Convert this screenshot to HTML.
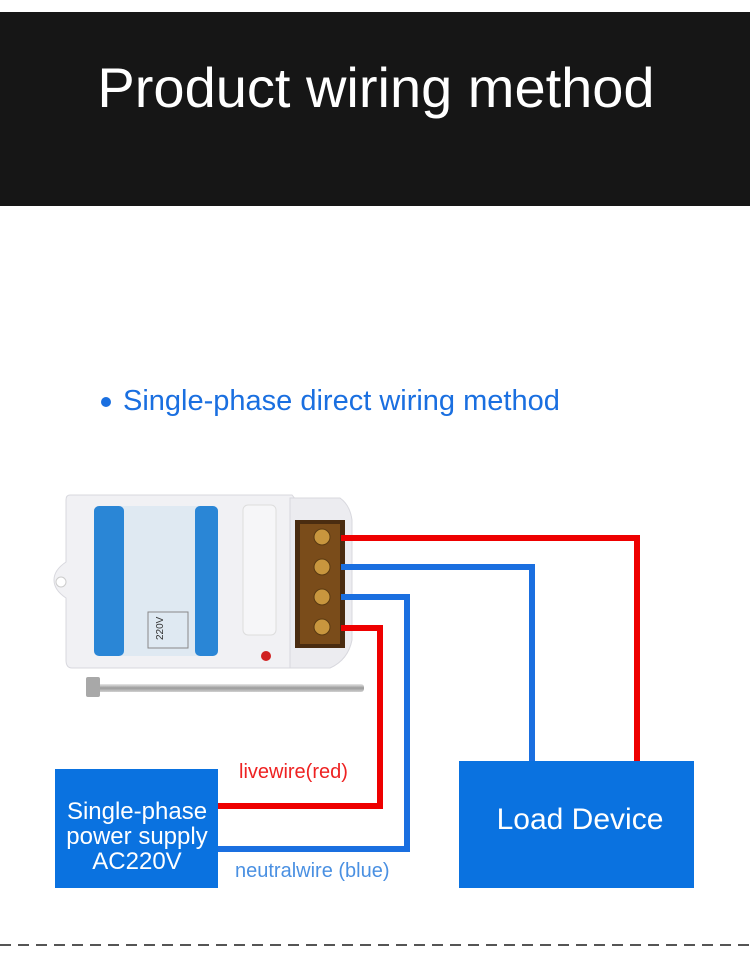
<!DOCTYPE html>
<html><head><meta charset="utf-8"><style>
body{margin:0;width:750px;height:958px;background:#fff;overflow:hidden;font-family:"Liberation Sans","Noto Sans CJK SC",sans-serif}
</style></head><body>
<svg width="750" height="958" viewBox="0 0 750 958" xmlns="http://www.w3.org/2000/svg" style="position:absolute;left:0;top:0">
<defs>
<linearGradient id="ant" x1="0" y1="0" x2="0" y2="1"><stop offset="0" stop-color="#e8e8e8"/><stop offset="0.5" stop-color="#9a9a9a"/><stop offset="1" stop-color="#d0d0d0"/></linearGradient>
</defs>
<rect x="0" y="12" width="750" height="194" fill="#161616"/>
<text x="376" y="107" font-size="56" fill="#fff" text-anchor="middle" font-family="Liberation Sans, sans-serif">Product wiring method</text>
<circle cx="106" cy="402" r="5" fill="#1a6fe0"/>
<text x="123" y="410" font-size="29" fill="#1a6fe0">Single-phase direct wiring method</text>
<!-- device body -->
<path d="M70 495 L292 495 L300 505 L300 668 L72 668 Q66 668 66 660 L66 598 Q54 590 54 580 Q54 570 66 562 L66 500 Q66 495 70 495Z" fill="#f1f1f4" stroke="#d8d8de"/>
<path d="M290 498 L340 498 Q350 505 352 520 L352 640 Q348 660 330 668 L290 668Z" fill="#ececf0" stroke="#d8d8de"/>
<circle cx="61" cy="582" r="5" fill="#fff" stroke="#ccc"/>
<rect x="94" y="506" width="124" height="150" rx="5" fill="#dfe9f2"/>
<rect x="94" y="506" width="30" height="150" rx="5" fill="#2a86d6"/>
<rect x="195" y="506" width="23" height="150" rx="5" fill="#2a86d6"/>
<rect x="148" y="612" width="40" height="36" fill="none" stroke="#888"/>
<text x="163" y="640" font-size="10" fill="#333" transform="rotate(-90 163 640)">220V</text>
<rect x="243" y="505" width="33" height="130" rx="5" fill="#f6f6f8" stroke="#ddd"/>
<circle cx="266" cy="656" r="5" fill="#d02020"/>
<!-- terminal block -->
<rect x="295" y="520" width="50" height="128" fill="#4a2c10"/>
<rect x="300" y="524" width="40" height="120" fill="#7a4c1a"/>
<g fill="#c8963e" stroke="#5a3a12">
<circle cx="322" cy="537" r="8"/><circle cx="322" cy="567" r="8"/><circle cx="322" cy="597" r="8"/><circle cx="322" cy="627" r="8"/>
</g>
<!-- antenna -->
<rect x="92" y="684" width="272" height="8" rx="3" fill="url(#ant)"/>
<rect x="86" y="677" width="14" height="20" rx="2" fill="#a8a8a8"/>
<!-- wires -->
<g fill="none" stroke-width="6" stroke-linejoin="miter">
<polyline points="341,538 637,538 637,762" stroke="#ee0000"/>
<polyline points="341,567 532,567 532,762" stroke="#1a6fe0"/>
<polyline points="341,597 407,597 407,849 218,849" stroke="#1a6fe0"/>
<polyline points="341,628 380,628 380,806 218,806" stroke="#ee0000"/>
</g>
<rect x="55" y="769" width="163" height="119" fill="#0a72e0"/>
<text fill="#fff" font-size="24" text-anchor="middle"><tspan x="137" y="819">Single-phase</tspan><tspan x="137" y="844">power supply</tspan><tspan x="137" y="869">AC220V</tspan></text>
<rect x="459" y="761" width="235" height="127" fill="#0a72e0"/>
<text x="580" y="829" fill="#fff" font-size="30" text-anchor="middle">Load Device</text>
<text x="239" y="778" fill="#ee2222" font-size="20">livewire(red)</text>
<text x="235" y="877" fill="#4a90e2" font-size="20">neutralwire (blue)</text>
<line x1="0" y1="945" x2="750" y2="945" stroke="#555" stroke-width="2" stroke-dasharray="11,7"/>
</svg>
</body></html>
